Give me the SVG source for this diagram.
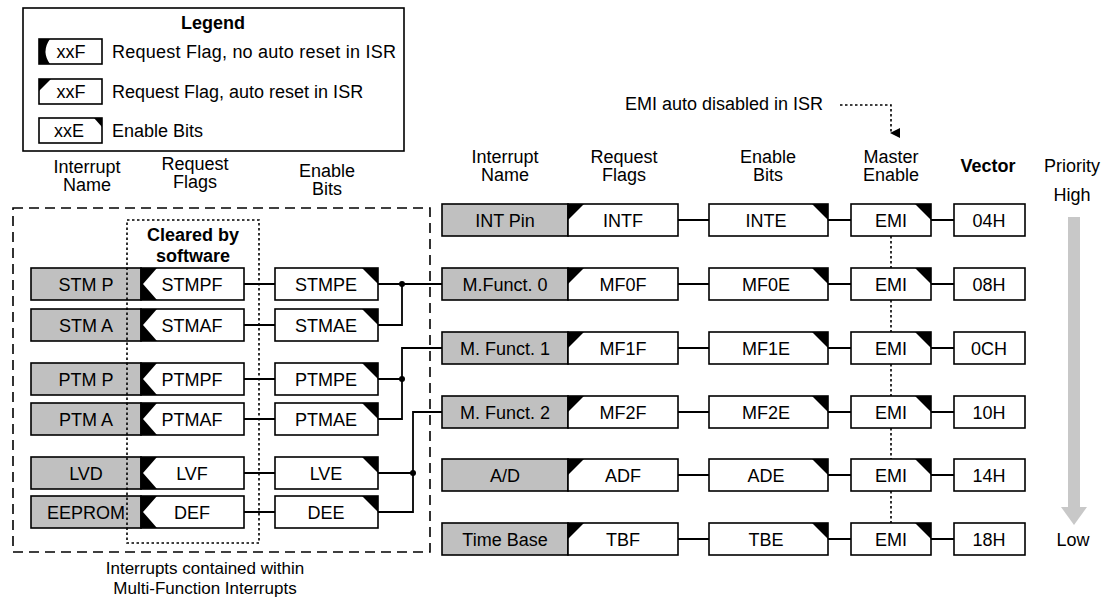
<svg xmlns="http://www.w3.org/2000/svg" width="1106" height="598" viewBox="0 0 1106 598">
<style>
text{font-family:"Liberation Sans",Arial,sans-serif;font-size:18px;fill:#000;text-anchor:middle}
.b{font-weight:bold}
.l{text-anchor:start}
.cap{font-size:17px}
.box{fill:#fff;stroke:#000;stroke-width:1.6}
.name{fill:#c0c0c0;stroke:#000;stroke-width:1.6}
.blk{fill:#000;stroke:none}
.ln{fill:none;stroke:#000;stroke-width:1.8}
.dot{fill:none;stroke:#000;stroke-width:1.6;stroke-dasharray:2.5 2.5}
.dash{fill:none;stroke:#000;stroke-width:1.6;stroke-dasharray:10 6}
</style>
<defs>
<marker id="ah" viewBox="0 0 10 10" refX="5" refY="9" markerWidth="10" markerHeight="10" markerUnits="userSpaceOnUse" orient="auto-start-reverse">
<path d="M0,0 L10,0 L5,10 Z" fill="#000"/>
</marker>
</defs>

<g id="legend">
<rect x="23" y="8" width="381" height="143" fill="#fff" stroke="#000" stroke-width="1.6"/>
<text class="b" x="213" y="29">Legend</text>
<rect class="box" x="39" y="39" width="63" height="25"/>
<path class="blk" d="M39,39 L50,39 Q41,51.5 50,64 L39,64 Z"/>
<text x="71" y="58">xxF</text>
<text class="l" x="112" y="58" textLength="284">Request Flag, no auto reset in ISR</text>
<rect class="box" x="39" y="79" width="63" height="25"/>
<path class="blk" d="M39,79 L51,79 L39,91 Z"/>
<text x="71" y="98">xxF</text>
<text class="l" x="112" y="98">Request Flag, auto reset in ISR</text>
<rect class="box" x="39" y="118" width="63" height="25"/>
<path class="blk" d="M94,118 L102,118 L102,127 Z"/>
<text x="69" y="137">xxE</text>
<text class="l" x="112" y="137">Enable Bits</text>
</g>

<g id="headers">
<text x="87" y="173">Interrupt</text><text x="87" y="191">Name</text>
<text x="195" y="170">Request</text><text x="195" y="188">Flags</text>
<text x="327" y="177">Enable</text><text x="327" y="195">Bits</text>
<text x="505" y="163">Interrupt</text><text x="505" y="181">Name</text>
<text x="624" y="163">Request</text><text x="624" y="181">Flags</text>
<text x="768" y="163">Enable</text><text x="768" y="181">Bits</text>
<text x="891" y="163">Master</text><text x="891" y="181">Enable</text>
<text class="b" x="988" y="172">Vector</text>
<text x="1072" y="172">Priority</text>
<text x="1072" y="201">High</text>
<text x="1073" y="546">Low</text>
<text class="l" x="625" y="110">EMI auto disabled in ISR</text>
<text class="cap" x="205" y="574">Interrupts contained within</text>
<text class="cap" x="205" y="594">Multi-Function Interrupts</text>
</g>

<g id="multi-function-group">
<rect class="dash" x="13" y="208" width="417" height="344"/>
<text class="b" x="193" y="241">Cleared by</text>
<text class="b" x="193" y="262">software</text>
</g>

<g id="priority-arrow">
<rect x="1068" y="217" width="12" height="290" fill="#c8c8c8"/>
<path d="M1061,507 L1087,507 L1074,525 Z" fill="#c8c8c8"/>
</g>

<g id="connectors">
<path class="ln" d="M244,284H275 M244,325H275 M244,379H275 M244,419H275 M244,473H275 M244,512H275"/>
<path class="ln" d="M378,284H442 M378,325H402V284"/>
<path class="ln" d="M378,379H402 M378,419H402V348H442"/>
<path class="ln" d="M378,473H413 M378,512H413V412H442"/>
<circle cx="402" cy="284" r="3"/>
<circle cx="402" cy="379" r="3"/>
<circle cx="413" cy="473" r="3"/>
<path class="ln" d="M678,220H709 M828,220H851 M931,220H954"/>
<path class="ln" d="M678,284H709 M828,284H851 M931,284H954"/>
<path class="ln" d="M678,348H709 M828,348H851 M931,348H954"/>
<path class="ln" d="M678,412H709 M828,412H851 M931,412H954"/>
<path class="ln" d="M678,475H709 M828,475H851 M931,475H954"/>
<path class="ln" d="M678,539H709 M828,539H851 M931,539H954"/>
<path class="dot" d="M891,236V268 M891,300V332 M891,364V396 M891,428V459 M891,491V523"/>
<path class="dot" d="M840,105H891V133" marker-end="url(#ah)"/>
</g>

<g id="stmp">
<rect class="name" x="31" y="268" width="110" height="32"/><text x="86" y="290.5">STM P</text>
<rect class="box" x="141" y="268" width="103" height="32"/><path class="blk" d="M141,268H157L143,284L157,300H141Z"/><text x="192" y="290.5">STMPF</text>
<rect class="box" x="275" y="268" width="103" height="32"/><path class="blk" d="M362,268H378V284Z"/><text x="326" y="290.5">STMPE</text>
</g>
<g id="stma">
<rect class="name" x="31" y="309" width="110" height="32"/><text x="86" y="331.5">STM A</text>
<rect class="box" x="141" y="309" width="103" height="32"/><path class="blk" d="M141,309H157L143,325L157,341H141Z"/><text x="192" y="331.5">STMAF</text>
<rect class="box" x="275" y="309" width="103" height="32"/><path class="blk" d="M362,309H378V325Z"/><text x="326" y="331.5">STMAE</text>
</g>
<g id="ptmp">
<rect class="name" x="31" y="363" width="110" height="32"/><text x="86" y="385.5">PTM P</text>
<rect class="box" x="141" y="363" width="103" height="32"/><path class="blk" d="M141,363H157L143,379L157,395H141Z"/><text x="192" y="385.5">PTMPF</text>
<rect class="box" x="275" y="363" width="103" height="32"/><path class="blk" d="M362,363H378V379Z"/><text x="326" y="385.5">PTMPE</text>
</g>
<g id="ptma">
<rect class="name" x="31" y="403" width="110" height="32"/><text x="86" y="425.5">PTM A</text>
<rect class="box" x="141" y="403" width="103" height="32"/><path class="blk" d="M141,403H157L143,419L157,435H141Z"/><text x="192" y="425.5">PTMAF</text>
<rect class="box" x="275" y="403" width="103" height="32"/><path class="blk" d="M362,403H378V419Z"/><text x="326" y="425.5">PTMAE</text>
</g>
<g id="lvd">
<rect class="name" x="31" y="457" width="110" height="32"/><text x="86" y="479.5">LVD</text>
<rect class="box" x="141" y="457" width="103" height="32"/><path class="blk" d="M141,457H157L143,473L157,489H141Z"/><text x="192" y="479.5">LVF</text>
<rect class="box" x="275" y="457" width="103" height="32"/><path class="blk" d="M362,457H378V473Z"/><text x="326" y="479.5">LVE</text>
</g>
<g id="eeprom">
<rect class="name" x="31" y="496" width="110" height="32"/><text x="86" y="518.5">EEPROM</text>
<rect class="box" x="141" y="496" width="103" height="32"/><path class="blk" d="M141,496H157L143,512L157,528H141Z"/><text x="192" y="518.5">DEF</text>
<rect class="box" x="275" y="496" width="103" height="32"/><path class="blk" d="M362,496H378V512Z"/><text x="326" y="518.5">DEE</text>
</g>

<g id="int-pin">
<rect class="name" x="442" y="204" width="126" height="32"/><text x="505" y="226.5">INT Pin</text>
<rect class="box" x="568" y="204" width="110" height="32"/><path class="blk" d="M568,204H584L568,220Z"/><text x="623" y="226.5">INTF</text>
<rect class="box" x="709" y="204" width="119" height="32"/><path class="blk" d="M812,204H828V220Z"/><text x="766" y="226.5">INTE</text>
<rect class="box" x="851" y="204" width="80" height="32"/><path class="blk" d="M915,204H931V220Z"/><text x="891" y="226.5">EMI</text>
<rect class="box" x="954" y="204" width="71" height="32"/><text x="989" y="226.5">04H</text>
</g>
<g id="mfunct0">
<rect class="name" x="442" y="268" width="126" height="32"/><text x="505" y="290.5">M.Funct. 0</text>
<rect class="box" x="568" y="268" width="110" height="32"/><path class="blk" d="M568,268H584L568,284Z"/><text x="623" y="290.5">MF0F</text>
<rect class="box" x="709" y="268" width="119" height="32"/><path class="blk" d="M812,268H828V284Z"/><text x="766" y="290.5">MF0E</text>
<rect class="box" x="851" y="268" width="80" height="32"/><path class="blk" d="M915,268H931V284Z"/><text x="891" y="290.5">EMI</text>
<rect class="box" x="954" y="268" width="71" height="32"/><text x="989" y="290.5">08H</text>
</g>
<g id="mfunct1">
<rect class="name" x="442" y="332" width="126" height="32"/><text x="505" y="354.5">M. Funct. 1</text>
<rect class="box" x="568" y="332" width="110" height="32"/><path class="blk" d="M568,332H584L568,348Z"/><text x="623" y="354.5">MF1F</text>
<rect class="box" x="709" y="332" width="119" height="32"/><path class="blk" d="M812,332H828V348Z"/><text x="766" y="354.5">MF1E</text>
<rect class="box" x="851" y="332" width="80" height="32"/><path class="blk" d="M915,332H931V348Z"/><text x="891" y="354.5">EMI</text>
<rect class="box" x="954" y="332" width="71" height="32"/><text x="989" y="354.5">0CH</text>
</g>
<g id="mfunct2">
<rect class="name" x="442" y="396" width="126" height="32"/><text x="505" y="418.5">M. Funct. 2</text>
<rect class="box" x="568" y="396" width="110" height="32"/><path class="blk" d="M568,396H584L568,412Z"/><text x="623" y="418.5">MF2F</text>
<rect class="box" x="709" y="396" width="119" height="32"/><path class="blk" d="M812,396H828V412Z"/><text x="766" y="418.5">MF2E</text>
<rect class="box" x="851" y="396" width="80" height="32"/><path class="blk" d="M915,396H931V412Z"/><text x="891" y="418.5">EMI</text>
<rect class="box" x="954" y="396" width="71" height="32"/><text x="989" y="418.5">10H</text>
</g>
<g id="ad">
<rect class="name" x="442" y="459" width="126" height="32"/><text x="505" y="481.5">A/D</text>
<rect class="box" x="568" y="459" width="110" height="32"/><path class="blk" d="M568,459H584L568,475Z"/><text x="623" y="481.5">ADF</text>
<rect class="box" x="709" y="459" width="119" height="32"/><path class="blk" d="M812,459H828V475Z"/><text x="766" y="481.5">ADE</text>
<rect class="box" x="851" y="459" width="80" height="32"/><path class="blk" d="M915,459H931V475Z"/><text x="891" y="481.5">EMI</text>
<rect class="box" x="954" y="459" width="71" height="32"/><text x="989" y="481.5">14H</text>
</g>
<g id="time-base">
<rect class="name" x="442" y="523" width="126" height="32"/><text x="505" y="545.5">Time Base</text>
<rect class="box" x="568" y="523" width="110" height="32"/><path class="blk" d="M568,523H584L568,539Z"/><text x="623" y="545.5">TBF</text>
<rect class="box" x="709" y="523" width="119" height="32"/><path class="blk" d="M812,523H828V539Z"/><text x="766" y="545.5">TBE</text>
<rect class="box" x="851" y="523" width="80" height="32"/><path class="blk" d="M915,523H931V539Z"/><text x="891" y="545.5">EMI</text>
<rect class="box" x="954" y="523" width="71" height="32"/><text x="989" y="545.5">18H</text>
</g>

<g id="cleared-by-software">
<rect class="dot" x="127" y="220" width="132" height="323"/>
</g>
</svg>
